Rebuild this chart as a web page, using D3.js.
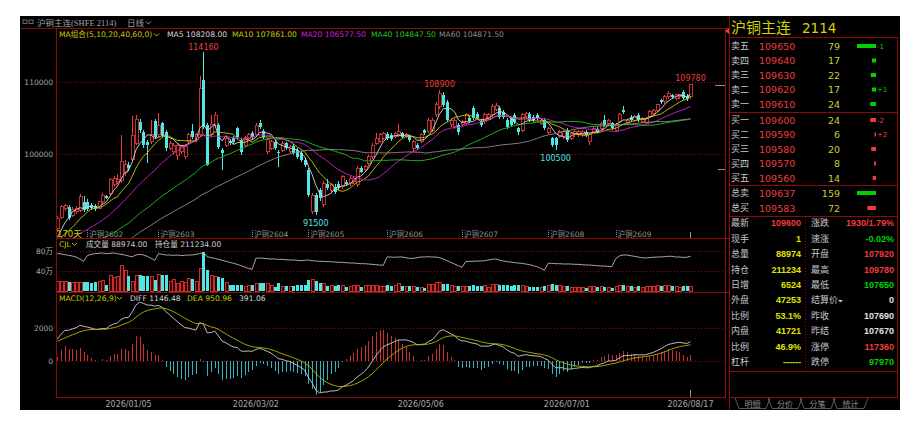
<!DOCTYPE html>
<html>
<head>
<meta charset="utf-8">
<script src="https://cdn.jsdelivr.net/npm/d3@7"></script>
<style>
  body { margin: 0; background: #fff; }
  svg text { font-family: "DejaVu Sans", "Noto Sans CJK SC", sans-serif; }
  .cn { font-family: "Noto Sans CJK SC", "DejaVu Sans", sans-serif; }
  .num { font-family: "Liberation Sans", Arial, sans-serif; font-weight: bold; }
</style>
</head>
<body>
<div id="chart"></div>
<script>
// closes before the visible window, only used to warm up MA / MACD
var priorCloses = [
  76700, 76300, 77000, 77400, 76900, 77600, 78100, 77700, 78300, 78800,
  78500, 79100, 79600, 79200, 79800, 80300, 79900, 80500, 81000, 80600,
  81200, 81700, 81300, 81900, 82400, 82000, 82600, 83100, 82700, 83300,
  83800, 83400, 83900, 84400, 84000, 84500, 84900, 84500, 85000, 85400,
  85000, 85500, 85900, 85500, 86000, 86300, 85900, 86400, 86700, 86300,
  86800, 87100, 86700, 87200, 87500, 87100, 87600, 87900, 87500, 88000
];

// daily bars: [open, high, low, close]
var bars = [
  [89700, 91400, 89200, 91060], [91200, 92900, 91000, 92700], [92400, 93000, 92100, 92800], [92700, 92900, 90800, 91060],
  [91500, 92600, 91200, 92300], [92000, 92800, 91700, 92500], [92200, 94400, 92000, 94070], [93400, 94100, 92000, 92200],
  [93400, 93700, 92100, 92400], [92900, 93200, 92200, 92500], [92800, 93000, 92100, 92400], [92450, 93500, 92300, 93380],
  [93380, 94600, 93100, 94300], [94100, 94300, 93700, 93900], [94540, 96700, 94200, 96390], [95700, 96900, 95400, 96600],
  [96200, 97200, 95900, 96400], [96300, 102640, 96000, 99000], [97500, 99200, 97000, 98500], [98500, 98900, 97700, 98000],
  [99200, 105300, 98900, 102600], [101500, 105400, 101200, 104800], [104500, 104900, 102900, 103300], [103100, 103400, 100800, 101250],
  [101700, 102000, 98700, 101250], [101700, 104700, 101400, 102640], [104580, 104900, 102100, 102400], [102640, 105650, 102300, 104000],
  [104260, 104500, 102300, 102640], [103100, 103400, 100400, 100800], [100800, 101800, 100500, 101500], [100300, 101500, 100000, 101250],
  [99860, 101500, 99170, 101250], [100300, 101300, 100000, 101000], [99600, 101200, 99300, 101000], [101700, 102900, 101400, 102640],
  [103200, 104100, 102100, 102400], [101950, 102900, 101700, 102640], [102640, 110800, 102400, 109120], [110280, 114160, 103500, 103800],
  [104000, 104300, 98300, 98470], [102640, 105400, 102300, 104100], [104000, 105900, 103700, 105400], [104000, 104300, 100700, 101000],
  [100550, 100800, 97800, 100100], [101250, 102500, 101000, 102180], [101800, 102100, 101200, 101500], [102180, 102500, 101400, 101700],
  [103560, 103800, 102100, 102400], [101950, 102200, 99800, 100300], [101250, 102500, 101000, 102180], [102180, 102900, 101900, 102640],
  [102900, 103200, 102100, 102400], [102640, 104300, 102400, 104000], [104260, 104700, 103500, 103800], [103240, 103500, 102100, 102400],
  [100320, 102200, 100000, 101950], [100800, 102000, 100500, 101700], [101700, 102000, 100500, 100800], [100300, 100600, 98240, 100100],
  [100550, 101800, 100300, 101480], [101480, 101700, 100500, 100780], [100320, 101300, 100100, 101000], [101100, 101400, 99800, 100100],
  [100550, 100800, 99300, 99630], [100100, 100400, 98900, 99170], [99170, 99500, 98200, 98470], [97780, 98100, 94000, 94300],
  [92000, 94600, 91700, 94300], [94300, 94600, 91500, 92000], [95000, 95300, 93500, 93840], [93000, 96200, 92700, 95900],
  [95900, 96500, 95000, 95230], [95000, 96000, 94700, 95700], [95460, 95800, 94500, 94770], [95900, 96200, 95000, 95230],
  [95460, 97100, 95200, 96850], [96150, 96400, 95500, 95800], [95900, 96900, 95600, 96620], [96150, 96900, 95900, 96620],
  [95700, 98300, 95400, 98000], [98000, 98300, 97300, 97550], [97780, 98500, 97500, 98240], [98700, 99900, 98400, 99630],
  [99630, 101500, 99300, 101250], [101480, 102870, 101200, 102180], [101710, 102900, 101500, 102640], [102180, 103100, 101900, 102870],
  [102780, 103000, 101950, 102180], [102640, 102900, 101800, 102080], [102410, 103100, 102200, 102870], [102640, 104120, 102400, 103100],
  [102870, 103100, 102200, 102410], [102410, 102900, 102200, 102640], [102500, 102700, 101700, 101940], [100790, 101900, 100300, 101710],
  [101250, 101500, 100500, 100790], [101710, 102900, 101500, 102640], [103330, 103500, 102700, 102870], [103100, 105000, 102900, 104720],
  [103330, 105000, 103100, 104720], [105420, 107200, 105200, 106810], [106570, 108900, 106300, 108430], [108200, 108600, 106500, 106810],
  [107270, 107500, 104400, 104720], [104030, 105000, 103800, 104720], [103800, 105000, 103500, 104720], [104030, 104300, 102700, 103100],
  [104030, 104700, 103800, 104490], [104260, 105700, 104000, 105420], [105050, 105300, 104300, 104580], [106340, 106600, 104700, 104950],
  [105510, 105800, 104800, 105050], [104580, 104800, 103800, 104030], [104490, 105700, 104200, 105420], [104950, 105700, 104700, 105420],
  [105420, 107000, 105200, 106570], [106250, 107100, 106000, 106710], [106340, 106600, 104900, 105190], [105880, 106100, 104900, 105190],
  [104720, 105000, 103500, 103800], [104950, 105200, 103800, 104030], [105420, 105700, 104200, 104490], [103570, 103800, 102700, 103010],
  [103330, 105700, 103100, 105420], [105190, 105900, 104900, 105650], [105510, 105800, 104500, 104720], [105190, 105400, 104500, 104720],
  [105420, 105700, 104700, 104950], [104260, 105000, 104000, 104720], [104720, 105000, 103300, 103570], [103010, 103800, 102800, 103570],
  [102180, 102400, 101000, 101250], [102180, 102400, 100500, 101250], [102410, 103300, 102200, 103100], [102410, 103300, 102100, 103100],
  [103330, 103600, 101700, 101940], [102180, 103100, 101900, 102870], [102640, 103300, 102400, 103100], [102640, 103300, 102400, 103100],
  [102640, 103300, 102400, 103100], [103100, 103300, 102400, 102640], [101710, 102900, 101200, 102640], [103100, 103800, 102900, 103570],
  [103480, 103700, 102900, 103100], [103570, 104500, 103300, 104260], [104720, 105400, 103800, 104030], [104260, 104900, 104000, 104720],
  [104260, 104500, 103300, 103570], [103330, 104300, 103100, 104030], [104490, 105700, 104300, 105510], [106110, 106710, 105600, 105790],
  [104400, 104900, 104200, 104720], [105190, 105400, 104500, 104720], [104720, 105400, 104500, 105190], [105420, 105700, 104500, 104720],
  [104490, 105100, 104300, 104950], [104400, 105100, 104200, 104950], [105190, 106100, 105000, 105880], [105650, 106300, 105400, 106110],
  [106110, 107000, 105900, 106810], [107500, 107700, 107000, 107270], [107270, 108200, 107000, 107960], [107960, 108700, 107700, 108430],
  [108200, 108400, 107700, 107960], [107730, 108400, 107500, 108200], [107960, 108400, 107700, 108200], [108660, 108900, 107500, 107730],
  [108100, 108300, 107400, 107690], [107920, 109780, 107650, 109600]
];

// volume in 万 contracts
var volume10k = [
  20, 20, 19, 18, 18, 17, 18, 19, 19, 17,
  18, 20, 22, 13, 32, 27, 30, 52, 42, 30,
  20, 32, 32, 31, 31, 29, 22, 33, 33, 32,
  20, 24, 15, 20, 17, 25, 24, 20, 45, 78,
  42, 32, 30, 29, 27, 17, 13, 12, 13, 13,
  9, 11, 12, 15, 17, 17, 15, 12, 9, 17,
  9, 11, 9, 10, 12, 12, 13, 22, 24, 20,
  17, 15, 11, 12, 11, 12, 11, 9, 9, 12,
  11, 9, 11, 12, 12, 11, 9, 9, 13, 11,
  11, 15, 11, 10, 11, 10, 8, 8, 7, 14,
  13, 17, 18, 14, 14, 11, 10, 10, 10, 10,
  11, 12, 11, 10, 11, 8, 13, 13, 12, 12,
  13, 11, 12, 12, 11, 10, 8, 8, 8, 7,
  10, 11, 15, 13, 11, 10, 10, 8, 8, 7,
  8, 7, 10, 10, 8, 10, 8, 7, 7, 10,
  12, 13, 10, 10, 8, 10, 8, 10, 10, 10,
  11, 11, 11, 12, 11, 10, 8, 10, 10, 8.8974
];

// open interest (持仓量)
var openInterest = [
  224600, 221500, 218500, 215400, 212300, 207700, 198500, 187700, 213800, 220000,
  223100, 224600, 226200, 223100, 224600, 226200, 223100, 220000, 216900, 212300,
  209200, 216900, 220000, 216900, 210800, 201500, 192300, 223100, 220000, 216900,
  216900, 215400, 216900, 213800, 215400, 216900, 216900, 220000, 223100, 229200,
  209200, 204600, 201500, 196900, 192300, 187700, 183100, 178500, 173800, 167700,
  161500, 155400, 150800, 201500, 203100, 201500, 200000, 198500, 198500, 196900,
  196900, 195400, 193800, 193800, 192300, 190800, 192300, 193800, 190800, 189200,
  187700, 187700, 186200, 186200, 184600, 183100, 183100, 181500, 180000, 180000,
  178500, 176900, 176900, 175400, 173800, 172300, 170800, 169200, 207700, 207700,
  206200, 207700, 207700, 204600, 201500, 201500, 204600, 207700, 207700, 209200,
  207700, 207700, 204600, 198500, 190800, 183100, 175400, 167700, 160000, 186200,
  187700, 187700, 189200, 189200, 190800, 193800, 196900, 198500, 193800, 189200,
  186200, 184600, 181500, 180000, 178500, 175400, 172300, 167700, 163100, 155400,
  146200, 178500, 178500, 176900, 176900, 175400, 175400, 175400, 173800, 173800,
  172300, 170800, 170800, 169200, 167700, 166100, 166100, 164600, 163100, 198500,
  212300, 216900, 216900, 213800, 210800, 207700, 204600, 203100, 204600, 206200,
  207700, 207700, 209200, 210800, 210800, 207700, 207700, 206200, 206200, 211234
];

var maPeriods = [5, 10, 20, 40, 60];
var maLegend = ['MA5 108208.00', 'MA10 107861.00', 'MA20 106577.50', 'MA40 104847.50', 'MA60 104871.50'];
var priceTicks = [100000, 110000];
var volTicks = [40, 80];
var macdTicks = [0, 2000];
var dateIdx = [19, 53, 97, 136, 169];
var dateLabels = ['2026/01/05', '2026/03/02', '2026/05/06', '2026/07/01', '2026/08/17'];
var contractIdx = [8, 27, 52, 67, 88, 108, 131, 149];
var contractLabels = ['沪铜2602', '沪铜2603', '沪铜2604', '沪铜2605', '沪铜2606', '沪铜2607', '沪铜2608', '沪铜2609'];
var markIdx = [39, 69, 102, 133, 169];
var markSide = ['high', 'low', 'high', 'low', 'high'];
var limitDown = 97970;

var askNames = ['卖五', '卖四', '卖三', '卖二', '卖一'];
var askPrices = [109650, 109640, 109630, 109620, 109610];
var askVols = [79, 17, 22, 17, 24];
var askChg = ['-1', '', '', '+1', ''];
var bidNames = ['买一', '买二', '买三', '买四', '买五'];
var bidPrices = [109600, 109590, 109580, 109570, 109560];
var bidVols = [24, 6, 20, 8, 14];
var bidChg = ['-2', '+2', '', '', ''];
var totalNames = ['总卖', '总买'];
var totalPrices = [109637, 109583];
var totalVols = [159, 72];
var statNamesL = ['最新', '现手', '总量', '持仓', '日增', '外盘', '比例', '内盘', '比例', '杠杆'];
var statValsL = ['109600', '1', '88974', '211234', '6524', '47253', '53.1%', '41721', '46.9%', '------'];
var statNamesR = ['涨跌', '速涨', '开盘', '最高', '最低', '结算价', '昨收', '昨结', '涨停', '跌停'];
var statValsR = ['1930/1.79%', '-0.02%', '107920', '109780', '107650', '0', '107690', '107670', '117360', '97970'];
var tabNames = ['明细', '分价', '分笔', '统计'];

var RED = '#f03c3c', CYAN = '#4fe6e6', FRAME = '#8c0a0a', GREY = '#a8a8a8',
    YELLOW = '#c8c800', GREEN = '#00d000';
var maColors = ['#d8d8d8', '#c8c800', '#d020d0', '#20c020', '#8c8c8c'];

var svg = d3.select('#chart').append('svg').attr('width', 922).attr('height', 425);
svg.append('rect').attr('x', 20).attr('y', 16).attr('width', 880).attr('height', 394).attr('fill', '#000');

var L = 56, R = 725;
var x = d3.scaleBand().domain(d3.range(bars.length)).range([L, L + 3.74 * bars.length]).paddingInner(0.3);
var bw = x.bandwidth();
function cx(i) { return x(i) + bw / 2; }
var priceY = d3.scaleLinear().domain([100000, 110000]).range([154, 82]);
var volY = d3.scaleLinear().domain([0, 80]).range([291, 251]);
var oiY = d3.scaleLinear().domain([120000, 240000]).range([276, 250]);
var macdY = d3.scaleLinear().domain([0, 2000]).range([361, 328]);

var defs = svg.append('defs');
function clip(id, y0, y1) {
  defs.append('clipPath').attr('id', id).append('rect')
    .attr('x', L + 1).attr('y', y0).attr('width', R - L - 1).attr('height', y1 - y0);
}
clip('cMain', 29, 238);
clip('cVol', 239, 292);
clip('cMacd', 293, 397);

// indicators
var allCloses = priorCloses.concat(bars.map(function (d) { return d[3]; }));
var off = priorCloses.length;
function ma(n) {
  return bars.map(function (d, i) {
    var j = i + off;
    return d3.mean(allCloses.slice(j - n + 1, j + 1));
  });
}
function ema(arr, n) {
  var k = 2 / (n + 1), prev = arr[0];
  return arr.map(function (v, i) { prev = i ? prev + k * (v - prev) : v; return prev; });
}
var e12 = ema(allCloses, 12), e26 = ema(allCloses, 26);
var diffAll = e12.map(function (v, i) { return v - e26[i]; });
var deaAll = ema(diffAll, 9);
var diff = diffAll.slice(off), dea = deaAll.slice(off);
var hist = diff.map(function (v, i) { return 2 * (v - dea[i]); });

// frame
function hline(y, x0, x1, dash) {
  svg.append('line').attr('x1', x0).attr('x2', x1).attr('y1', y).attr('y2', y)
    .attr('stroke', FRAME).attr('stroke-width', 1).attr('stroke-dasharray', dash || null)
    .attr('shape-rendering', 'crispEdges');
}
function vline(xp, y0, y1, color, dash) {
  svg.append('line').attr('x1', xp).attr('x2', xp).attr('y1', y0).attr('y2', y1)
    .attr('stroke', color || FRAME).attr('stroke-width', 1).attr('stroke-dasharray', dash || null)
    .attr('shape-rendering', 'crispEdges');
}
hline(28.5, 20, 729);
hline(238.5, L, 729);
hline(292.5, L, 729);
hline(397.5, L, R);
vline(L + 0.5, 28, 398);
vline(R + 0.5, 28, 398);
vline(729.5, 16, 410);

priceTicks.forEach(function (v) { hline(Math.round(priceY(v)) + 0.5, L, R, '1,2'); });
volTicks.forEach(function (v) { hline(Math.round(volY(v)) + 0.5, L, R, '1,2'); });
macdTicks.forEach(function (v) { hline(Math.round(macdY(v)) + 0.5, L, R, '1,2'); });

function leftAxis(scale, ticks, fmt) {
  var g = svg.append('g').attr('transform', 'translate(' + (L - 3) + ',0)')
    .call(d3.axisLeft(scale).tickValues(ticks).tickSize(0).tickPadding(0).tickFormat(fmt));
  g.select('.domain').remove();
  g.selectAll('text').attr('fill', GREY).attr('font-size', 7.5)
    .attr('font-family', '"DejaVu Sans", "Noto Sans CJK SC", sans-serif');
}
leftAxis(priceY, priceTicks, d3.format('d'));
leftAxis(volY, volTicks, function (d) { return d + '万'; });
leftAxis(macdY, macdTicks, d3.format('d'));

var xAxis = svg.append('g').attr('transform', 'translate(0,397)')
  .call(d3.axisBottom(x).tickValues(dateIdx).tickSize(0).tickPadding(4)
    .tickFormat(function (d) { return dateLabels[dateIdx.indexOf(d)]; }));
xAxis.select('.domain').remove();
xAxis.selectAll('text').attr('fill', GREY).attr('font-size', 8).attr('font-family', '"DejaVu Sans", sans-serif');

// header
svg.append('rect').attr('x', 23).attr('y', 20).attr('width', 4).attr('height', 3.5).attr('fill', 'none').attr('stroke', '#888').attr('stroke-width', 0.8);
svg.append('rect').attr('x', 29).attr('y', 20).attr('width', 4).attr('height', 3.5).attr('fill', 'none').attr('stroke', '#888').attr('stroke-width', 0.8);
svg.append('text').attr('x', 37).attr('y', 25.5).attr('fill', '#a0a0a0').attr('font-size', 8.5)
  .style('font-family', '"Liberation Serif", "Noto Sans CJK SC", serif').text('沪铜主连(SHFE 2114)');
svg.append('text').attr('x', 127).attr('y', 25.5).attr('fill', '#a0a0a0').attr('font-size', 8.5).attr('class', 'cn').text('日线');
function chevron(x0, y0, color) {
  svg.append('path').attr('d', 'M' + x0 + ',' + y0 + 'l2.5,2.5l2.5,-2.5').attr('fill', 'none')
    .attr('stroke', color).attr('stroke-width', 0.9);
}
chevron(146, 21.5, '#a0a0a0');

// MA legend
svg.append('text').attr('x', 59).attr('y', 37).attr('fill', YELLOW).attr('font-size', 7.6).text('MA组合(5,10,20,40,60,0)');
chevron(154, 33.5, YELLOW);
var legX = [167, 232, 301, 371, 439];
maLegend.forEach(function (t, k) {
  svg.append('text').attr('x', legX[k]).attr('y', 37).attr('fill', maColors[k]).attr('font-size', 7.6).text(t);
});

// candles
var main = svg.append('g').attr('clip-path', 'url(#cMain)');
var cg = main.selectAll('g.bar').data(bars).enter().append('g');
cg.append('line')
  .attr('x1', function (d, i) { return Math.round(cx(i)) + 0.5; })
  .attr('x2', function (d, i) { return Math.round(cx(i)) + 0.5; })
  .attr('y1', function (d) { return priceY(d[1]); })
  .attr('y2', function (d) { return priceY(d[2]); })
  .attr('stroke', function (d) { return d[3] >= d[0] ? RED : CYAN; })
  .attr('stroke-width', 1).attr('shape-rendering', 'crispEdges');
cg.append('rect')
  .attr('x', function (d, i) { return Math.round(cx(i)) - 1; })
  .attr('width', 3)
  .attr('y', function (d) { return priceY(Math.max(d[0], d[3])); })
  .attr('height', function (d) { return Math.max(1, Math.abs(priceY(d[0]) - priceY(d[3]))); })
  .attr('fill', function (d) { return d[3] >= d[0] ? '#000' : CYAN; })
  .attr('stroke', function (d) { return d[3] >= d[0] ? RED : 'none'; })
  .attr('stroke-width', 0.8).attr('shape-rendering', 'crispEdges');

// moving averages
maPeriods.forEach(function (n, k) {
  var vals = ma(n);
  main.append('path').datum(vals)
    .attr('d', d3.line().x(function (d, i) { return cx(i); }).y(function (d) { return priceY(d); }))
    .attr('fill', 'none').attr('stroke', maColors[k]).attr('stroke-width', 0.9);
});

// extreme labels
markIdx.forEach(function (i, k) {
  var hi = markSide[k] === 'high';
  var v = hi ? bars[i][1] : bars[i][2];
  svg.append('text').attr('x', cx(i)).attr('y', hi ? priceY(v) - 2.5 : priceY(v) + 10.5)
    .attr('text-anchor', 'middle').attr('fill', hi ? RED : CYAN).attr('font-size', 8).text(v);
});

// right edge price markers
[bars[bars.length - 1][3], limitDown].forEach(function (v, k) {
  svg.append('line').attr('x1', k ? 718 : 715).attr('x2', R).attr('y1', Math.round(priceY(v)) + 0.5).attr('y2', Math.round(priceY(v)) + 0.5)
    .attr('stroke', '#909090').attr('stroke-width', 1);
});

// contract roll labels
contractIdx.forEach(function (i, k) {
  vline(Math.round(cx(i)) + 0.5, 230, 237, '#909090', '1,1');
  svg.append('text').attr('x', cx(i) + 2).attr('y', 237).attr('fill', '#909090').attr('font-size', 7.5).text(contractLabels[k]);
});
svg.append('text').attr('x', 57).attr('y', 236.5).attr('fill', YELLOW).attr('font-size', 8.5).text(bars.length + '天');
vline(Math.round(cx(bars.length - 1)) + 0.5, 232, 238, '#909090');
vline(Math.round(cx(bars.length - 1)) + 0.5, 390, 397, '#909090');

// volume panel
svg.append('text').attr('x', 59).attr('y', 246.5).attr('fill', YELLOW).attr('font-size', 7.6).text('CJL');
chevron(72, 243, YELLOW);
svg.append('text').attr('x', 86).attr('y', 246.5).attr('fill', '#d0d0d0').attr('font-size', 7.6)
  .text('成交量 ' + (volume10k[volume10k.length - 1] * 10000).toFixed(2));
svg.append('text').attr('x', 155).attr('y', 246.5).attr('fill', '#d0d0d0').attr('font-size', 7.6)
  .text('持仓量 ' + openInterest[openInterest.length - 1].toFixed(2));
var vg = svg.append('g').attr('clip-path', 'url(#cVol)');
vg.selectAll('rect').data(volume10k).enter().append('rect')
  .attr('x', function (d, i) { return Math.round(cx(i)) - 1; })
  .attr('width', 3)
  .attr('y', function (d) { return volY(d); })
  .attr('height', function (d) { return volY(0) - volY(d); })
  .attr('fill', function (d, i) { return bars[i][3] >= bars[i][0] ? '#300' : CYAN; })
  .attr('stroke', function (d, i) { return bars[i][3] >= bars[i][0] ? RED : 'none'; })
  .attr('stroke-width', 0.8).attr('shape-rendering', 'crispEdges');
vg.append('path').datum(openInterest)
  .attr('d', d3.line().x(function (d, i) { return cx(i); }).y(function (d) { return oiY(d); }))
  .attr('fill', 'none').attr('stroke', '#b8b8b8').attr('stroke-width', 0.9);

// MACD panel
svg.append('text').attr('x', 59).attr('y', 300.5).attr('fill', YELLOW).attr('font-size', 7.6).text('MACD(12,26,9)');
chevron(117, 297, YELLOW);
svg.append('text').attr('x', 130).attr('y', 300.5).attr('fill', '#d8d8d8').attr('font-size', 7.6).text('DIFF 1146.48');
svg.append('text').attr('x', 187).attr('y', 300.5).attr('fill', YELLOW).attr('font-size', 7.6).text('DEA 950.96');
svg.append('text').attr('x', 239).attr('y', 300.5).attr('fill', '#d8d8d8').attr('font-size', 7.6).text('391.06');
var mg = svg.append('g').attr('clip-path', 'url(#cMacd)');
mg.selectAll('line').data(hist).enter().append('line')
  .attr('x1', function (d, i) { return Math.round(cx(i)) + 0.5; })
  .attr('x2', function (d, i) { return Math.round(cx(i)) + 0.5; })
  .attr('y1', macdY(0))
  .attr('y2', function (d) { return macdY(d); })
  .attr('stroke', function (d) { return d >= 0 ? '#c83232' : '#32b4c0'; })
  .attr('stroke-width', 1).attr('shape-rendering', 'crispEdges');
[[diff, '#d0d0d0'], [dea, '#b4b400']].forEach(function (s) {
  mg.append('path').datum(s[0])
    .attr('d', d3.line().x(function (d, i) { return cx(i); }).y(function (d) { return macdY(d); }))
    .attr('fill', 'none').attr('stroke', s[1]).attr('stroke-width', 0.9);
});

// quote panel
var P = svg.append('g');
P.append('path').attr('d', 'M729,28 l-4,3 l4,3 z').attr('fill', RED);
P.append('text').attr('x', 731).attr('y', 33).attr('fill', '#d4d400').attr('font-size', 15).attr('class', 'cn').text('沪铜主连');
P.append('text').attr('x', 802).attr('y', 33).attr('fill', '#d4d400').attr('font-size', 13.5).text('2114');
P.append('rect').attr('x', 729.5).attr('y', 37.5).attr('width', 168).attr('height', 360)
  .attr('fill', 'none').attr('stroke', FRAME).attr('shape-rendering', 'crispEdges');
[112, 185, 216, 371].forEach(function (y) { hline(y + 0.5, 729, 898); });
vline(805.5, 217, 371, FRAME, '1,2');

var bookW = d3.scaleLinear().domain([0, d3.max(askVols)]).range([0, 19]);
var totalW = d3.scaleLinear().domain([0, d3.max(totalVols)]).range([0, 19]);
function bookRow(y, name, price, vol, chg, barColor, wScale) {
  P.append('text').attr('x', 731).attr('y', y + 3.3).attr('fill', '#c8c8c8').attr('font-size', 9).attr('class', 'cn').text(name);
  P.append('text').attr('x', 759).attr('y', y + 3.6).attr('fill', RED).attr('font-size', 9.5).text(price);
  P.append('text').attr('x', 840).attr('y', y + 3.6).attr('text-anchor', 'end').attr('fill', '#cccc33').attr('font-size', 9.5).text(vol);
  var w = Math.max(1, wScale(vol));
  P.append('rect').attr('x', 876 - w).attr('y', y - 2).attr('width', w).attr('height', 4).attr('fill', barColor);
  if (chg) {
    P.append('text').attr('x', 877).attr('y', y + 2.5).attr('fill', barColor).attr('font-size', 7).text(chg);
  }
}
askNames.forEach(function (n, k) { bookRow(46 + k * 14.5, n, askPrices[k], askVols[k], askChg[k], GREEN, bookW); });
bidNames.forEach(function (n, k) { bookRow(120 + k * 14.5, n, bidPrices[k], bidVols[k], bidChg[k], RED, bookW); });
totalNames.forEach(function (n, k) { bookRow(193 + k * 15, n, totalPrices[k], totalVols[k], '', k ? RED : GREEN, totalW); });

var prevClose = +statValsR[statNamesR.indexOf('昨收')];
function tone(name, val) {
  var v = parseFloat(val);
  if (name === '涨跌' || name === '速涨') return v > 0 ? RED : GREEN;
  if (name === '昨收' || name === '昨结' || v === 0) return '#e0e0e0';
  return v > prevClose ? RED : GREEN;
}
statNamesL.forEach(function (n, k) {
  var y = 223 + k * 15.4;
  P.append('text').attr('x', 731).attr('y', y + 3.3).attr('fill', '#c8c8c8').attr('font-size', 9).attr('class', 'cn').text(n);
  P.append('text').attr('x', 801).attr('y', y + 3.3).attr('text-anchor', 'end').attr('class', 'num').attr('font-size', 9)
    .attr('fill', k === 0 ? RED : '#e0e000').text(statValsL[k]);
  P.append('text').attr('x', 811).attr('y', y + 3.3).attr('fill', '#c8c8c8').attr('font-size', 9).attr('class', 'cn').text(statNamesR[k]);
  P.append('text').attr('x', 894).attr('y', y + 3.3).attr('text-anchor', 'end').attr('class', 'num').attr('font-size', 9)
    .attr('fill', tone(statNamesR[k], statValsR[k])).text(statValsR[k]);
});
P.append('path').attr('d', 'M838,300 l5,0 l-2.5,2.5 z').attr('fill', '#c8c8c8');

// tabs
var tabX = [735, 768, 800, 833, 866];
tabNames.forEach(function (t, k) {
  var x0 = tabX[k], x1 = tabX[k + 1];
  P.append('path').attr('d', 'M' + x0 + ',398 L' + (x0 + 4) + ',408.5 L' + (x1 - 2) + ',408.5 L' + (x1 + 2) + ',398')
    .attr('fill', 'none').attr('stroke', '#707070').attr('stroke-width', 0.8);
  P.append('text').attr('x', (x0 + x1) / 2 + 1).attr('y', 406.5).attr('text-anchor', 'middle')
    .attr('fill', '#8c8c8c').attr('font-size', 8).attr('class', 'cn').text(t);
});
</script>
</body>
</html>
